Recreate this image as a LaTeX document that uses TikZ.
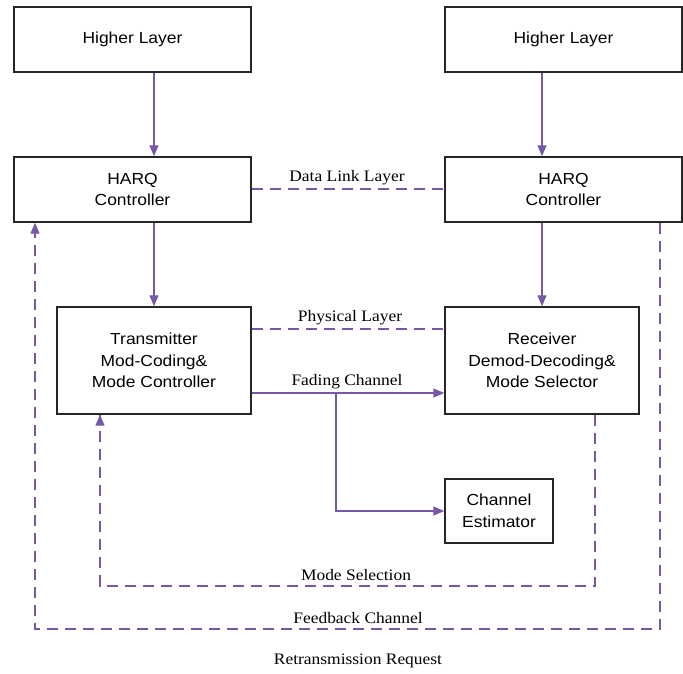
\documentclass[tikz,border=0pt]{standalone}
\usepackage{fontspec}
\setmainfont[FakeStretch=1.09]{Liberation Serif}
\newfontfamily\boxfont[FakeStretch=1.09]{Liberation Sans}
\usetikzlibrary{arrows.meta}
\definecolor{linkpurple}{RGB}{118,88,166}
\begin{document}
\begin{tikzpicture}[x=1pt,y=-1pt,
  blockbox/.style={draw=black!85,line width=1.4pt,inner sep=0pt,align=center,
    font=\boxfont\fontsize{16}{21.5}\selectfont},
  flow/.style={draw=linkpurple,line width=1.3pt,-{Triangle[length=11pt,width=9pt]}},
  dashlink/.style={draw=linkpurple,line width=1.3pt,dash pattern=on 11pt off 7pt},
  lbl/.style={inner sep=0pt,font=\fontsize{16}{19}\selectfont}]
  \useasboundingbox (0,0) rectangle (683,673);

  % upper layers
  \node[blockbox,minimum width=237pt,minimum height=65pt] (hlL) at (132.5,39.5) {Higher Layer};
  \node[blockbox,minimum width=237pt,minimum height=65pt] (hlR) at (563.5,39.5) {Higher Layer};
  \node[blockbox,minimum width=237pt,minimum height=65pt] (harqL) at (132.5,189.5) {HARQ\\Controller};
  \node[blockbox,minimum width=237pt,minimum height=65pt] (harqR) at (563.5,189.5) {HARQ\\Controller};

  % physical layer blocks
  \node[blockbox,minimum width=194pt,minimum height=107pt] (tx) at (154,360.5) {Transmitter\\Mod-Coding\&\\Mode Controller};
  \node[blockbox,minimum width=194pt,minimum height=107pt] (rx) at (542,360.5) {Receiver\\Demod-Decoding\&\\Mode Selector};
  \node[blockbox,minimum width=108pt,minimum height=64pt] (ce) at (499,511) {Channel\\Estimator};

  % downward data flow
  \draw[flow] (hlL.south -| tx.north) -- (harqL.north -| tx.north);
  \draw[flow] (hlR.south -| rx.north) -- (harqR.north -| rx.north);
  \draw[flow] (harqL.south -| tx.north) -- (tx.north);
  \draw[flow] (harqR.south -| rx.north) -- (rx.north);

  % peer layers
  \coordinate (dl) at (0,189);
  \draw[dashlink] (harqL.east |- dl) -- (harqR.west |- dl);
  \node[lbl] (dll) at (347,178) {Data Link Layer};
  \coordinate (phy) at (0,329);
  \draw[dashlink] (tx.east |- phy) -- (rx.west |- phy);
  \node[lbl] (phyl) at (350,318) {Physical Layer};

  % fading channel and estimator branch
  \coordinate (fad) at (0,393);
  \coordinate (split) at (336,393);
  \draw[flow] (tx.east |- fad) -- (rx.west |- fad);
  \node[lbl] (fadl) at (347,382) {Fading Channel};
  \draw[flow] (split) -- (split |- ce.west) -- (ce.west);

  % mode selection loop
  \coordinate (msR) at (595,586);
  \coordinate (msL) at (100,586);
  \draw[dashlink] (msR |- rx.south) -- (msR) -- (msL) -- (msL |- tx.south);
  \draw[flow] ([yshift=-8pt]msL |- tx.south) -- (msL |- tx.south);
  \node[lbl] (msl) at (356,575) {Mode Selection};

  % feedback loop
  \coordinate (fbR) at (660,629);
  \coordinate (fbL) at (35,629);
  \draw[dashlink] (fbR |- harqR.south) -- (fbR) -- (fbL) -- (fbL |- harqL.south);
  \draw[flow] ([yshift=-8pt]fbL |- harqL.south) -- (fbL |- harqL.south);
  \node[lbl] (fbl) at (358,618) {Feedback Channel};

  \node[lbl] (rrq) at (358,661) {Retransmission Request};
\end{tikzpicture}
\end{document}
